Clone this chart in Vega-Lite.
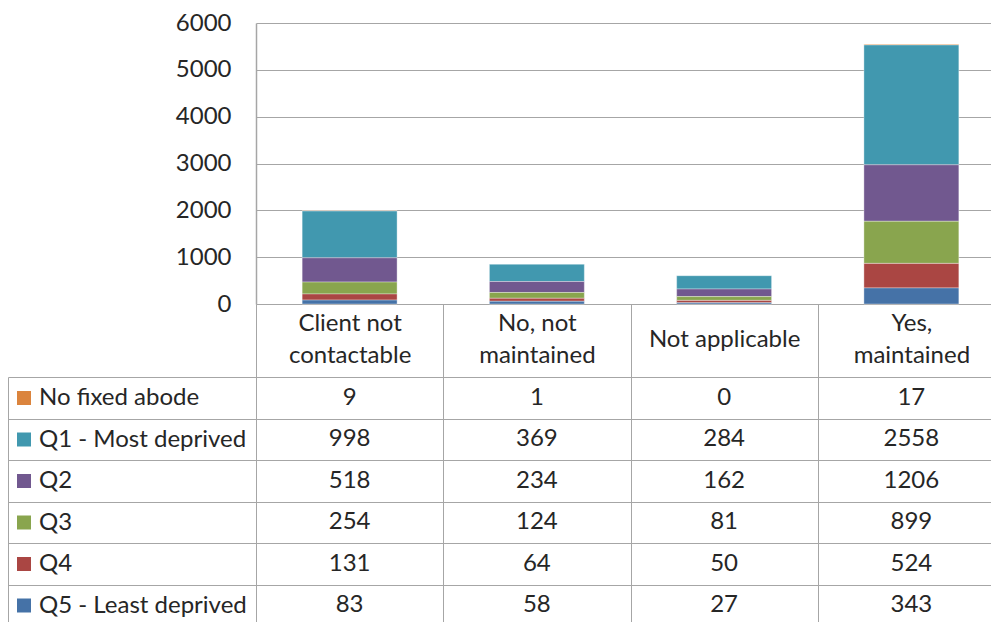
{
  "$schema": "https://vega.github.io/schema/vega-lite/v6.json",
  "width": 749,
  "height": 281,
  "autosize": {"type": "none"},
  "padding": {"left": 256, "top": 23, "right": 0, "bottom": 322},
  "background": "#ffffff",
  "config": {
    "view": {"stroke": null},
    "font": "Lato",
    "text": {"font": "Lato"}
  },
  "data": {
    "values": [
      {"status": "Client not contactable", "area": "No fixed abode", "count": 9},
      {"status": "Client not contactable", "area": "Q1 - Most deprived", "count": 998},
      {"status": "Client not contactable", "area": "Q2", "count": 518},
      {"status": "Client not contactable", "area": "Q3", "count": 254},
      {"status": "Client not contactable", "area": "Q4", "count": 131},
      {"status": "Client not contactable", "area": "Q5 - Least deprived", "count": 83},
      {"status": "No, not maintained", "area": "No fixed abode", "count": 1},
      {"status": "No, not maintained", "area": "Q1 - Most deprived", "count": 369},
      {"status": "No, not maintained", "area": "Q2", "count": 234},
      {"status": "No, not maintained", "area": "Q3", "count": 124},
      {"status": "No, not maintained", "area": "Q4", "count": 64},
      {"status": "No, not maintained", "area": "Q5 - Least deprived", "count": 58},
      {"status": "Not applicable", "area": "No fixed abode", "count": 0},
      {"status": "Not applicable", "area": "Q1 - Most deprived", "count": 284},
      {"status": "Not applicable", "area": "Q2", "count": 162},
      {"status": "Not applicable", "area": "Q3", "count": 81},
      {"status": "Not applicable", "area": "Q4", "count": 50},
      {"status": "Not applicable", "area": "Q5 - Least deprived", "count": 27},
      {"status": "Yes, maintained", "area": "No fixed abode", "count": 17},
      {"status": "Yes, maintained", "area": "Q1 - Most deprived", "count": 2558},
      {"status": "Yes, maintained", "area": "Q2", "count": 1206},
      {"status": "Yes, maintained", "area": "Q3", "count": 899},
      {"status": "Yes, maintained", "area": "Q4", "count": 524},
      {"status": "Yes, maintained", "area": "Q5 - Least deprived", "count": 343}
    ]
  },
  "encoding": {
    "x": {
      "field": "status",
      "type": "nominal",
      "sort": ["Client not contactable", "No, not maintained", "Not applicable", "Yes, maintained"],
      "scale": {"type": "band", "paddingInner": 0, "paddingOuter": 0},
      "axis": {
        "title": null,
        "orient": "bottom",
        "tickBand": "extent",
        "tickSize": 322,
        "tickColor": "#a6a6a6",
        "tickWidth": 1,
        "domainColor": "#a6a6a6",
        "domainWidth": 1,
        "labelAngle": 0,
        "labelFont": "Lato",
        "labelFontSize": 24,
        "labelColor": "#262626",
        "labelAlign": "center",
        "labelBaseline": "middle",
        "labelPadding": {"condition": {"test": "datum.value == 'Not applicable'", "value": -287}, "value": -303},
        "labelLineHeight": 32,
        "labelLimit": 0,
        "labelExpr": "datum.value == 'Client not contactable' ? ['Client not', 'contactable'] : datum.value == 'No, not maintained' ? ['No, not', 'maintained'] : datum.value == 'Yes, maintained' ? ['Yes,', 'maintained'] : datum.value"
      }
    }
  },
  "layer": [
    {
      "mark": {"type": "bar", "width": {"band": 0.507}, "stroke": "#ffffff", "strokeOpacity": 0.35, "strokeWidth": 1},
      "encoding": {
        "y": {
          "field": "count",
          "type": "quantitative",
          "stack": "zero",
          "scale": {"domain": [0, 6000], "nice": false},
          "axis": {
            "title": null,
            "values": [0, 1000, 2000, 3000, 4000, 5000, 6000],
            "format": "d",
            "grid": true,
            "gridColor": "#a6a6a6",
            "gridWidth": 1,
            "ticks": false,
            "domain": true,
            "domainColor": "#a6a6a6",
            "domainWidth": 1.5,
            "labelFont": "Lato",
            "labelFontSize": 24,
            "labelColor": "#262626",
            "labelPadding": 25,
            "labelFlush": false,
            "labelOverlap": false
          }
        },
        "color": {
          "field": "area",
          "type": "nominal",
          "scale": {
            "domain": ["No fixed abode", "Q1 - Most deprived", "Q2", "Q3", "Q4", "Q5 - Least deprived"],
            "range": ["#db843d", "#4198af", "#71588f", "#89a54e", "#aa4643", "#4572a7"]
          },
          "legend": {
            "orient": "none",
            "legendX": -244,
            "legendY": 363,
            "title": null,
            "padding": 0,
            "symbolType": "square",
            "symbolSize": 196,
            "symbolStrokeWidth": 0,
            "labelFont": "Lato",
            "labelFontSize": 24,
            "labelColor": "#262626",
            "labelOffset": 3,
            "labelLimit": 0,
            "rowPadding": 17.5
          }
        },
        "order": {"field": "area", "sort": "descending"}
      }
    },
    {
      "mark": {"type": "text", "fontSize": 24, "font": "Lato", "color": "#262626", "align": "center", "baseline": "middle"},
      "encoding": {
        "y": {
          "field": "area",
          "type": "nominal",
          "sort": ["No fixed abode", "Q1 - Most deprived", "Q2", "Q3", "Q4", "Q5 - Least deprived"],
          "scale": {"type": "band", "range": [354, 603], "paddingInner": 0, "paddingOuter": 0},
          "axis": {
            "orient": "left",
            "title": null,
            "labels": false,
            "offset": 248,
            "tickBand": "extent",
            "tickSize": -248,
            "tickColor": "#a6a6a6",
            "tickWidth": 1,
            "domainColor": "#a6a6a6",
            "domainWidth": 1,
            "grid": true,
            "gridColor": "#a6a6a6",
            "gridWidth": 1
          }
        },
        "text": {"field": "count", "type": "quantitative"}
      }
    }
  ],
  "resolve": {"scale": {"y": "independent", "color": "independent"}}
}
